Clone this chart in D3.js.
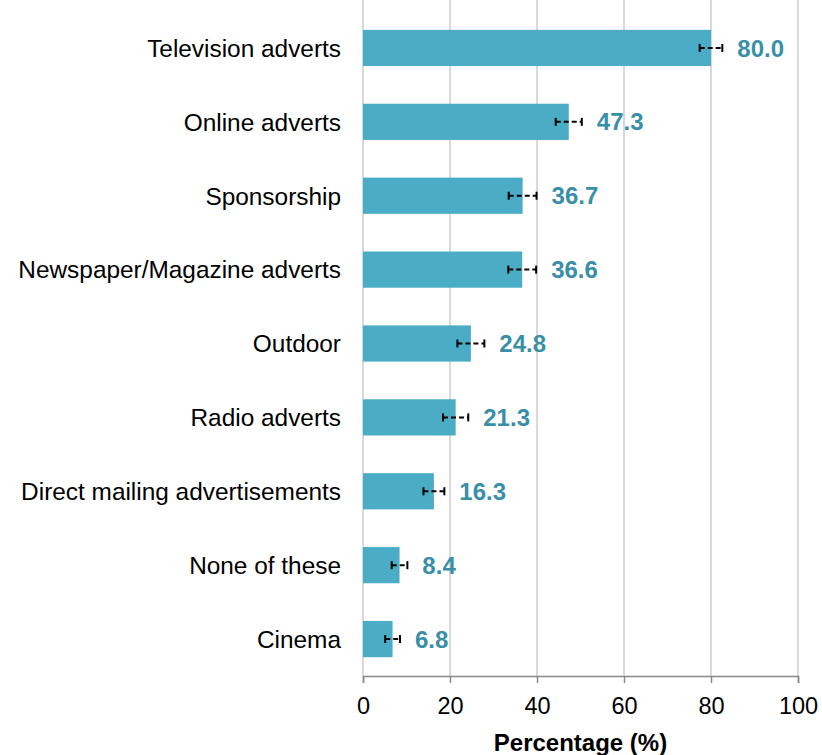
<!DOCTYPE html>
<html>
<head>
<meta charset="utf-8">
<script src="https://cdn.jsdelivr.net/npm/d3@7"></script>
<style>
  body { margin: 0; background: #fff; }
  svg text { font-family: "Liberation Sans", Arial, sans-serif; }
</style>
</head>
<body>
<svg id="chart" width="822" height="755"></svg>
<script>
// Advertising channels, share of respondents (%)
const categories = [
  "Television adverts", "Online adverts", "Sponsorship", "Newspaper/Magazine adverts",
  "Outdoor", "Radio adverts", "Direct mailing advertisements", "None of these", "Cinema"
];
const values = [80.0, 47.3, 36.7, 36.6, 24.8, 21.3, 16.3, 8.4, 6.8];
// 95% confidence half-widths
const errors = [2.6, 3.0, 3.2, 3.2, 3.1, 2.9, 2.4, 1.8, 1.7];
const xTicks = [0, 20, 40, 60, 80, 100];
const xTitle = "Percentage (%)";

const svg = d3.select("#chart");
const margin = { top: 11, right: 24, bottom: 79, left: 363 };
const height = 755 - margin.top - margin.bottom;

const g = svg.append("g").attr("transform", `translate(${margin.left},${margin.top})`);

const x = d3.scaleLinear().domain([0, 100]).range([0, 435]);
const y = d3.scaleBand().domain(categories).range([0, height]).paddingInner(0.51).paddingOuter(0.255);

// Vertical gridlines
g.append("g").selectAll("line").data(xTicks).join("line")
  .attr("x1", d => x(d)).attr("x2", d => x(d))
  .attr("y1", -margin.top).attr("y2", height)
  .attr("stroke", "#d9d9d9").attr("stroke-width", 2);

// Bars
g.append("g").selectAll("rect").data(values).join("rect")
  .attr("x", x(0))
  .attr("y", (d, i) => y(categories[i]))
  .attr("width", d => x(d) - x(0))
  .attr("height", y.bandwidth())
  .attr("fill", "#4bacc6");

// Error bars
const eb = g.append("g").selectAll("g").data(values).join("g")
  .attr("transform", (d, i) => `translate(0,${y(categories[i]) + y.bandwidth() / 2})`);
eb.append("line")
  .attr("x1", (d, i) => x(d - errors[i])).attr("x2", (d, i) => x(d + errors[i]))
  .attr("stroke", "#000").attr("stroke-width", 2).attr("stroke-dasharray", "5,3");
eb.append("line")
  .attr("x1", (d, i) => x(d - errors[i])).attr("x2", (d, i) => x(d - errors[i]))
  .attr("y1", -4).attr("y2", 4).attr("stroke", "#000").attr("stroke-width", 2);
eb.append("line")
  .attr("x1", (d, i) => x(d + errors[i])).attr("x2", (d, i) => x(d + errors[i]))
  .attr("y1", -4).attr("y2", 4).attr("stroke", "#000").attr("stroke-width", 2);

// Value labels
g.append("g").selectAll("text").data(values).join("text")
  .attr("x", (d, i) => x(d + errors[i]) + 15)
  .attr("y", (d, i) => y(categories[i]) + y.bandwidth() / 2)
  .attr("dy", "0.36em")
  .attr("fill", "#3a8fa8")
  .attr("font-weight", "bold")
  .attr("font-size", 24)
  .text(d => d.toFixed(1));

// Category labels
g.append("g").selectAll("text").data(categories).join("text")
  .attr("x", -22)
  .attr("y", d => y(d) + y.bandwidth() / 2)
  .attr("dy", "0.36em")
  .attr("text-anchor", "end")
  .attr("font-size", 24.4)
  .attr("fill", "#000")
  .text(d => d);

// X axis
const xAxis = g.append("g").attr("transform", `translate(0,${height})`)
  .call(d3.axisBottom(x).tickValues(xTicks).tickSize(7).tickPadding(14));
xAxis.select(".domain").attr("stroke", "#888").attr("stroke-width", 1.5);
xAxis.selectAll(".tick line").attr("stroke", "#888").attr("stroke-width", 1.5);
xAxis.selectAll(".tick text").attr("font-size", 23.5).attr("fill", "#000")
  .attr("font-family", "'Liberation Sans', Arial, sans-serif");

svg.append("text")
  .attr("x", margin.left + x(50))
  .attr("y", 751)
  .attr("text-anchor", "middle")
  .attr("font-size", 24)
  .attr("font-weight", "bold")
  .text(xTitle);
</script>
</body>
</html>
